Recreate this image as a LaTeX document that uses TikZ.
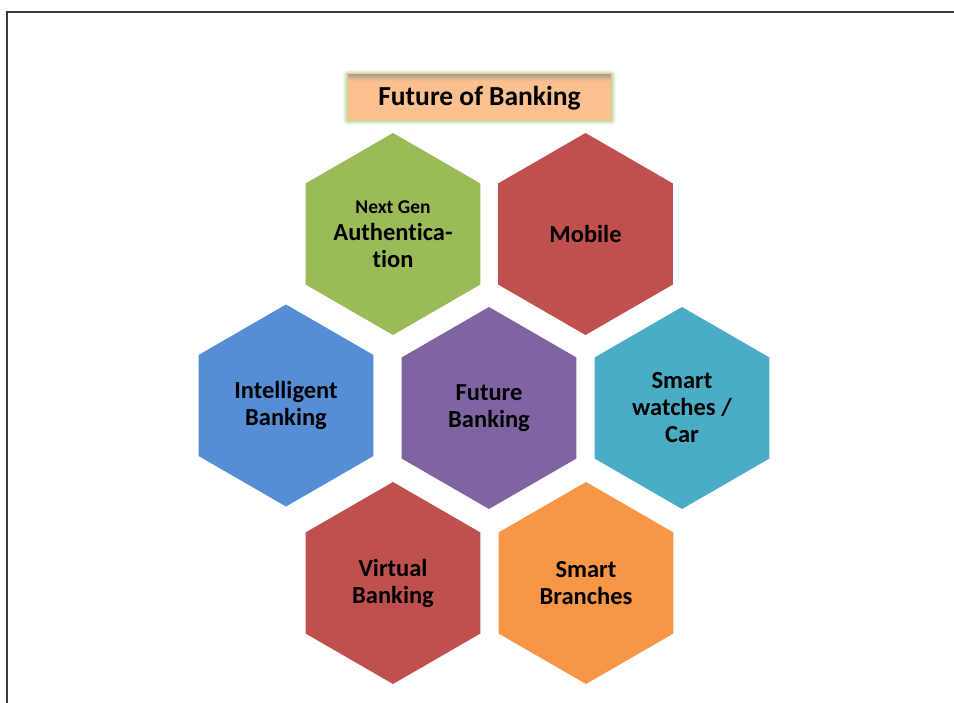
\documentclass[tikz,border=0pt]{standalone}
\usepackage{fontspec}
\setmainfont{Carlito}[Ligatures=NoCommon]
\usetikzlibrary{shapes.geometric}
\definecolor{hgreen}{HTML}{9BBB59}
\definecolor{hred}{HTML}{C0504D}
\definecolor{hblue}{HTML}{558ED5}
\definecolor{hpurple}{HTML}{8064A2}
\definecolor{hteal}{HTML}{4BACC6}
\definecolor{horange}{HTML}{F79646}
\definecolor{titlefill}{HTML}{FAC090}
\definecolor{titleglow}{HTML}{C3D69B}
\definecolor{framec}{HTML}{3A3A3A}
\tikzset{
  hexa/.style={regular polygon, regular polygon sides=6, shape border rotate=30,
    minimum size=202pt, inner sep=0pt, outer sep=0pt, draw=none, align=center,
    font=\fontsize{24.5}{27}\selectfont\bfseries, text=black},
}
\begin{document}
\begin{tikzpicture}[x=1pt,y=1pt]
\useasboundingbox (0,0) rectangle (954,-703);
\fill[white] (0,0) rectangle (954,-703);
% frame
\draw[framec, line width=2pt] (7,-703) -- (7,-12.5) -- (954,-12.5);
% title glow
\foreach \w/\o in {10/0.15,8/0.25,6/0.35,4/0.5,2/0.8}{
  \draw[titleglow, line width=\w pt, opacity=\o, line join=round] (348,-75) rectangle (611,-120);
}
\fill[titlefill] (348,-75) rectangle (611,-120);
\shade[top color=titlefill!50!gray, bottom color=titlefill] (348,-75) rectangle (611,-81);
\node[font=\fontsize{27.5}{30}\selectfont\bfseries, inner sep=0pt] (title) at (479.5,-98) {Future of Banking};
% hexagons
\node[hexa, fill=hgreen] (auth) at (393,-234) {{\fontsize{19.5}{26}\selectfont Next Gen}\\Authentica-\\tion};
\node[hexa, fill=hred] (mobile) at (585.5,-234) {Mobile};
\node[hexa, fill=hblue] (intel) at (286,-405.5) {Intelligent\\Banking};
\node[hexa, fill=hpurple] (future) at (489,-408) {Future\\Banking};
\node[hexa, fill=hteal] (watch) at (682,-408) {Smart\\watches /\\Car};
\node[hexa, fill=hred] (virtual) at (393,-583) {Virtual\\Banking};
\node[hexa, fill=horange] (branch) at (586,-583) {Smart\\Branches};
\end{tikzpicture}
\end{document}
